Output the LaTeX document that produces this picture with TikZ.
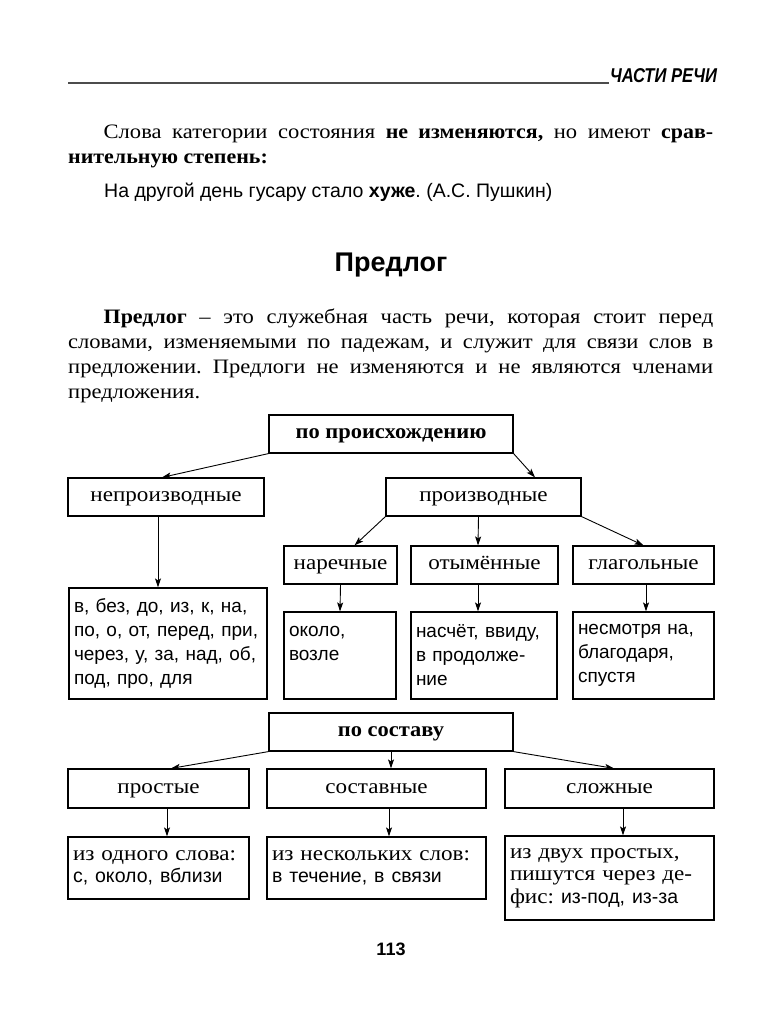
\documentclass[tikz,border=0pt]{standalone}
\usepackage{fontspec}
\setmainfont{Liberation Serif}[UprightFeatures={FakeStretch=1.1}, BoldFeatures={FakeStretch=1.07}]
\setsansfont{Liberation Sans}
\newfontfamily\headfont{Liberation Sans}[FakeStretch=0.83]
\usetikzlibrary{arrows.meta}

\newcommand{\samples}[1]{{\sffamily\fontsize{19.5}{22.5}\selectfont #1}}

\tikzset{
    para/.style={anchor=north west, inner sep=0pt, text width=645pt, align=justify,
        font=\fontsize{20.5}{24.8}\selectfont},
    catbox/.style={draw, line width=1.2pt, inner sep=0pt, minimum height=38pt,
        text height=14pt, text depth=4.5pt, font=\fontsize{21}{24}\selectfont},
    topbox/.style={catbox, font=\fontsize{21}{24}\selectfont\bfseries},
    wordbox/.style={draw, line width=1.2pt, inner xsep=5pt, inner ysep=0pt, align=left,
        font=\sffamily\fontsize{19}{24}\selectfont},
    examplebox/.style={wordbox, font=\fontsize{21}{22.5}\selectfont},
    arr/.style={line width=0.9pt, -{Stealth[length=9pt,width=6pt,inset=2pt]}},
}

\begin{document}
\frenchspacing
\begin{tikzpicture}[x=1pt,y=-1pt]
    \fill[white] (0,0) rectangle (780,1024);
    \useasboundingbox (0,0) rectangle (780,1024);

    % running head
    \node[anchor=base west, inner sep=0pt, font=\headfont\bfseries\itshape\fontsize{20}{20}\selectfont]
        (hdr) at (610,83) {ЧАСТИ РЕЧИ};
    \coordinate (rulestart) at (68,83);
    \draw[line width=1.7pt, black!70] (rulestart) -- ([xshift=-1pt]hdr.base west);

    % text
    \node[para] (state) at (68,125) {\hspace*{35.5pt}Слова категории состояния
        \textbf{не изменяются,} но имеют \textbf{срав-}\linebreak
        \textbf{нительную степень:}};
    \node[anchor=base west, inner sep=0pt, font=\sffamily\fontsize{19.5}{24}\selectfont]
        (quote) at (104,198) {На другой день гусару стало \textbf{хуже}. (А.С. Пушкин)};

    \node[anchor=base, inner sep=0pt, font=\sffamily\bfseries\fontsize{27}{30}\selectfont]
        (title) at (391,271) {Предлог};

    \node[para] (defn) at (68,309) {\hspace*{35.5pt}\textbf{Предлог} – это служебная часть речи,
        которая стоит перед\linebreak словами, изменяемыми по падежам, и служит для связи
        слов в\linebreak предложении. Предлоги не изменяются и не являются
        членами\linebreak предложения.};

    % по происхождению
    \node[topbox, minimum width=244pt] (orig) at (391,434) {по происхождению};
    \node[catbox, minimum width=196pt] (neproizv) at (166,497) {непроизводные};
    \node[catbox, minimum width=195pt] (proizv) at (483.5,497) {производные};
    \node[catbox, minimum width=113pt] (nar) at (340.5,565) {наречные};
    \node[catbox, minimum width=147pt] (otym) at (484.5,565) {отымённые};
    \node[catbox, minimum width=141pt] (glag) at (643.5,565) {глагольные};

    \node[wordbox, text width=188pt, minimum height=111pt] (bez) at (168,643.5)
        {в, без, до, из, к, на,\\по, о, от, перед, при,\\через, у, за, над, об,\\под, про, для};
    \node[wordbox, text width=102pt, minimum height=87pt] (okolo) at (340,655.5)
        {около,\\возле\\\mbox{}};
    \node[wordbox, text width=136pt, minimum height=87pt] (naschet) at (484,655.5)
        {насчёт, ввиду,\\в продолже-\\ние};
    \node[wordbox, text width=131pt, minimum height=87pt] (nesm) at (643.5,655.5)
        {несмотря на,\\благодаря,\\спустя};

    \draw[arr] (orig.south west) -- ([xshift=-4pt]neproizv.north);
    \draw[arr] (orig.south east) -- ([xshift=51.5pt]proizv.north);
    \draw[arr] (proizv.south west) -- ([xshift=14pt]nar.north);
    \draw[arr] ([xshift=-5pt]proizv.south) -- ([xshift=-6.5pt]otym.north);
    \draw[arr] (proizv.south east) -- (glag.north);
    \draw[arr] ([xshift=-8pt]neproizv.south) -- ([xshift=-10pt]bez.north);
    \draw[arr] (nar.south) -- (okolo.north);
    \draw[arr] ([xshift=-6.5pt]otym.south) -- ([xshift=-6pt]naschet.north);
    \draw[arr] ([xshift=2.5pt]glag.south) -- ([xshift=2.5pt]nesm.north);

    % по составу
    \node[topbox, minimum width=244pt] (sostav) at (391,732) {по составу};
    \node[catbox, minimum width=181pt, minimum height=39pt] (prost) at (158.5,788.5) {простые};
    \node[catbox, minimum width=219pt, minimum height=39pt] (sostavn) at (376.5,788.5) {составные};
    \node[catbox, minimum width=209pt, minimum height=39pt] (slozh) at (609.5,788.5) {сложные};

    \node[examplebox, text width=171pt, minimum height=62pt] (odno) at (158.5,868)
        {из одного слова:\\\samples{с, около, вблизи}};
    \node[examplebox, text width=209pt, minimum height=62pt] (neskol) at (376.5,868)
        {из нескольких слов:\\\samples{в течение, в связи}};
    \node[examplebox, text width=199pt, minimum height=84pt] (dvuh) at (609.5,878)
        {из двух простых,\\пишутся через де-\\фис: \samples{из-под, из-за}};

    \draw[arr] (sostav.south west) -- ([xshift=12.5pt]prost.north);
    \draw[arr] (sostav.south) -- (sostav.south |- sostavn.north);
    \draw[arr] (sostav.south east) -- ([xshift=4.5pt]slozh.north);
    \draw[arr] ([xshift=8.5pt]prost.south) -- ([xshift=8.5pt]odno.north);
    \draw[arr] ([xshift=12.5pt]sostavn.south) -- ([xshift=12.5pt]neskol.north);
    \draw[arr] ([xshift=13.5pt]slozh.south) -- ([xshift=13.5pt]dvuh.north);

    % page number
    \node[anchor=base, inner sep=0pt, font=\sffamily\bfseries\fontsize{18}{20}\selectfont]
        (folio) at (391,955) {113};
\end{tikzpicture}
\end{document}
